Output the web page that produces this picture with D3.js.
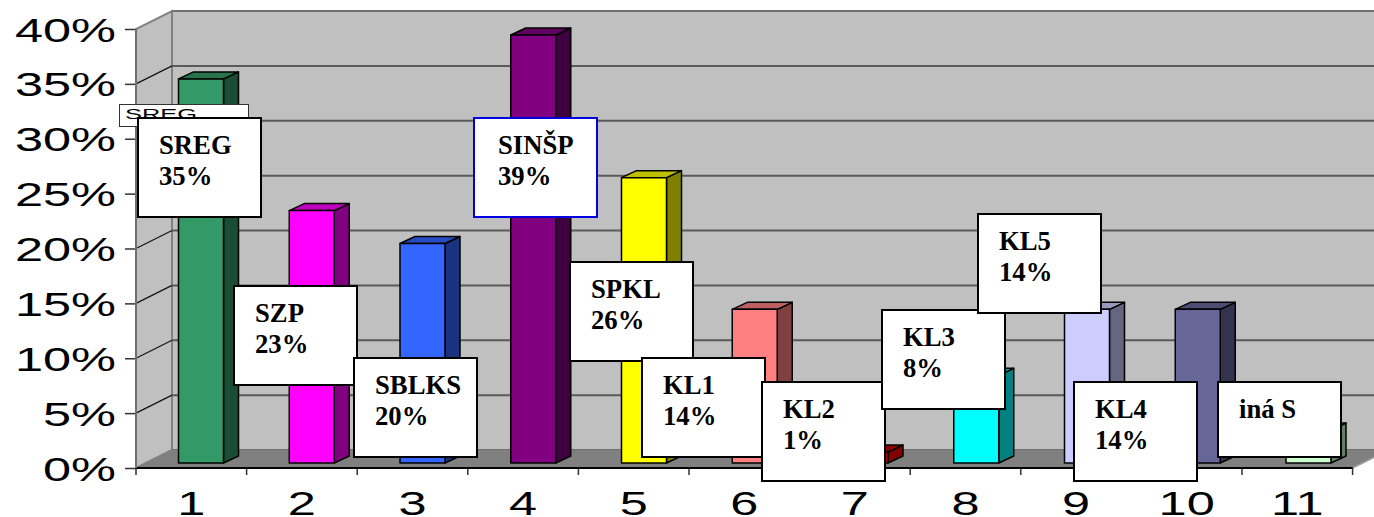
<!DOCTYPE html>
<html><head><meta charset="utf-8">
<script src="https://cdn.jsdelivr.net/npm/d3@7/dist/d3.min.js"></script>
<style>html,body{margin:0;padding:0;background:#fff;overflow:hidden}svg{display:block}</style>
</head><body><svg id="c" width="1374" height="517"></svg>
<script>
const categories = [1,2,3,4,5,6,7,8,9,10,11];
const values = [35,23,20,39,26,14,1,8,14,14,3];
const labelNames = ["SREG","SZP","SBLKS","SINŠP","SPKL","KL1","KL2","KL3","KL5","KL4","iná S"];
const labelPercents = ["35%","23%","20%","39%","26%","14%","1%","8%","14%","14%",""];
const yTicks = [0,5,10,15,20,25,30,35,40];
const frontColors = ["#339966","#ff00ff","#3366ff","#800080","#ffff00","#ff8080","#c00000","#00ffff","#ccccff","#666699","#ccffcc"];
// label box placement relative to the axis band start and bar top
const boxDx = [2,-12.6,-3.2,6.2,-8.4,-47,-37.6,-28.2,-42.8,-57.4,-24];
const boxDy = [39,75.4,114.5,83,84.4,48.6,-70,-65.2,-95.4,72.6,-48];

const L=136,R=1352.6,Y0=468,Y40=29,DX=36,DY=-18,BDX=15,BDY=-7;
const svg=d3.select("#c");
const x=d3.scaleBand().domain(categories).range([L,R]);
const xBar=d3.scaleBand().domain(categories).range([178.5,178.5+11*110.75]);
const y=d3.scaleLinear().domain([0,40]).range([Y0,Y40]);
const poly=p=>p.map(d=>d.join(",")).join(" ");

// walls
svg.append("rect").attr("x",L+DX).attr("y",y(40)+DY).attr("width",R-L).attr("height",Y0-Y40)
  .attr("fill","#c0c0c0").attr("stroke","#707070").attr("stroke-width",2);
svg.append("polygon").attr("points",poly([[L,y(0)],[L+DX,y(0)+DY],[L+DX,y(40)+DY],[L,y(40)]]))
  .attr("fill","#c0c0c0").attr("stroke","#808080").attr("stroke-width",2);
// gridlines
svg.selectAll(".gb").data(yTicks.slice(1,-1)).join("line").attr("x1",L+DX).attr("x2",R+DX)
  .attr("y1",d=>y(d)+DY).attr("y2",d=>y(d)+DY).attr("stroke","#5a5a5a").attr("stroke-width",2);
svg.selectAll(".gs").data(yTicks.slice(1,-1)).join("line").attr("x1",L).attr("x2",L+DX)
  .attr("y1",d=>y(d)).attr("y2",d=>y(d)+DY).attr("stroke","#111").attr("stroke-width",1.2);
// floor
svg.append("polygon").attr("points",poly([[L,y(0)],[L+DX,y(0)+DY],[R+DX,y(0)+DY],[R,y(0)]]))
  .attr("fill","#808080");
svg.append("line").attr("x1",R).attr("y1",y(0)).attr("x2",R+DX).attr("y2",y(0)+DY).attr("stroke","#a0a0a0").attr("stroke-width",1.5);

// bars
const barW=45,lift=5;
const shade=(c,k)=>{const r=d3.rgb(c);return d3.rgb(r.r*k,r.g*k,r.b*k).formatHex();};
const bars=svg.selectAll(".bar").data(categories).join("g").attr("class","bar")
  .attr("stroke","#000").attr("stroke-width",1.5).attr("stroke-linejoin","round");
bars.append("polygon").attr("points",(c,i)=>{const a=xBar(c)+barW,t=y(values[i])-lift,b=y(0)-lift;
  return poly([[a,t],[a+BDX,t+BDY],[a+BDX,b+BDY],[a,b]]);}).attr("fill",(c,i)=>shade(frontColors[i],i===6?0.67:0.5));
bars.append("polygon").attr("points",(c,i)=>{const a=xBar(c),t=y(values[i])-lift;
  return poly([[a,t],[a+BDX,t+BDY],[a+barW+BDX,t+BDY],[a+barW,t]]);}).attr("fill",(c,i)=>shade(frontColors[i],0.75));
bars.append("rect").attr("x",c=>xBar(c)).attr("width",barW)
  .attr("y",(c,i)=>y(values[i])-lift).attr("height",(c,i)=>y(0)-y(values[i]))
  .attr("fill",(c,i)=>frontColors[i]);

// axes
const tickFont=g=>g.selectAll("text").attr("font-family","'Liberation Sans',Arial,sans-serif").attr("font-size",33)
  .attr("fill","#000");
const ay=svg.append("g").attr("transform",`translate(${L},0)`)
  .call(d3.axisLeft(y).tickValues(yTicks).tickFormat(d=>d+"%").tickSize(11).tickPadding(0));
ay.select(".domain").remove();
ay.selectAll("line").attr("stroke","#333").attr("stroke-width",1.5);
tickFont(ay);
ay.selectAll("text").attr("x",0).attr("dy",0).attr("text-anchor","end")
  .attr("transform","translate(-20,12) scale(1.53,1)");
const ax=svg.append("g").attr("transform",`translate(0,${Y0})`)
  .call(d3.axisBottom(x).tickSize(0).tickPadding(0));
ax.select(".domain").remove();
ax.selectAll("line").remove();
tickFont(ax);
ax.selectAll("text").attr("y",0).attr("dy",0).attr("text-anchor","middle")
  .attr("transform","translate(0,47) scale(1.53,1)");
// tick marks sit on band edges
const edges=categories.map(c=>x(c)).concat(R);
ax.selectAll(".edge").data(edges).join("line").attr("x1",d=>d).attr("x2",d=>d).attr("y1",0).attr("y2",7)
  .attr("stroke","#333").attr("stroke-width",1.5);
svg.append("line").attr("x1",L).attr("x2",R).attr("y1",Y0).attr("y2",Y0).attr("stroke","#000").attr("stroke-width",2);
svg.append("line").attr("x1",L).attr("x2",L).attr("y1",Y40).attr("y2",Y0).attr("stroke","#707070").attr("stroke-width",2);

// stray small box behind first label
const sm=svg.append("g");
sm.append("rect").attr("x",119.5).attr("y",104.5).attr("width",129).attr("height",22)
  .attr("fill","#fff").attr("stroke","#333").attr("stroke-width",1);
sm.append("text").attr("x",125).attr("y",119).text(labelNames[0])
  .attr("font-family","'Liberation Sans',Arial,sans-serif").attr("font-size",15)
  .attr("textLength",72).attr("lengthAdjust","spacingAndGlyphs").attr("fill","#000");

// data labels
const boxW=123,boxH=99;
const lab=svg.selectAll(".lab").data(categories).join("g").attr("class","lab")
  .attr("transform",(c,i)=>`translate(${Math.round(x(c)+boxDx[i])},${Math.round(y(values[i])-lift+boxDy[i])})`);
lab.append("rect").attr("width",boxW).attr("height",(c,i)=>labelPercents[i]?boxH:75)
  .attr("fill","#fff").attr("stroke",(c,i)=>i===3?"#0000e0":"#000").attr("stroke-width",2);
const tt=lab.append("text").attr("font-family","'Liberation Serif','Times New Roman',serif")
  .attr("font-weight","bold").attr("font-size",26.7).attr("fill","#000");
tt.append("tspan").attr("x",(c,i)=>i===3?24:21).attr("y",36).text((c,i)=>labelNames[i]);
tt.append("tspan").attr("x",(c,i)=>i===3?24:21).attr("y",67).text((c,i)=>labelPercents[i]);
</script></body></html>
